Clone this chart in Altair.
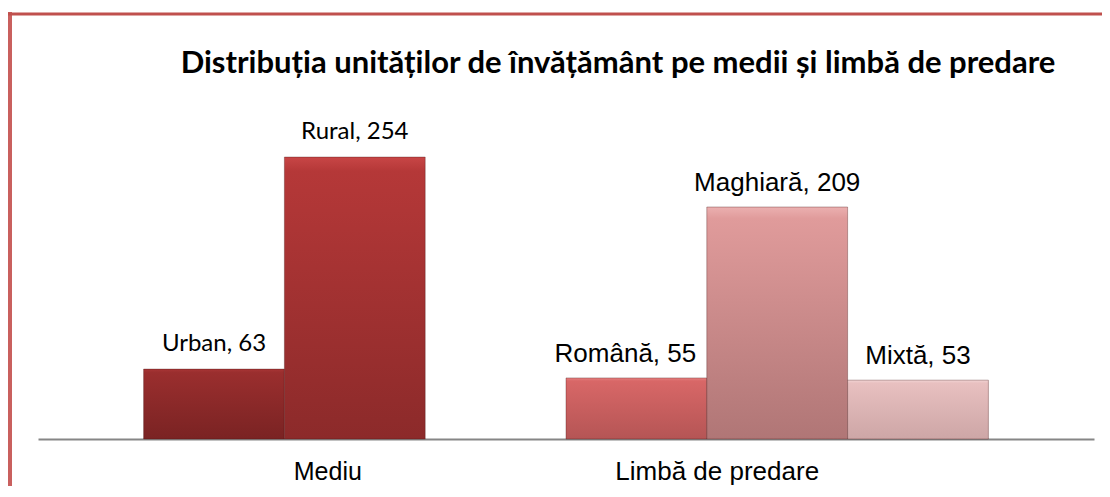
import altair as alt
import pandas as pd

# ---- data ----
categories = ["Urban", "Rural", "Română", "Maghiară", "Mixtă"]
values = [63, 254, 55, 209, 53]
groups = ["Mediu", "Mediu", "Limbă de predare", "Limbă de predare", "Limbă de predare"]
group_names = ["Mediu", "Limbă de predare"]
title_text = "Distribuția unităților de învățământ pe medii și limbă de predare"
slot_order = ["Urban", "Rural", " ", "Română", "Maghiară", "Mixtă"]

df = pd.DataFrame({"cat": categories, "val": values, "grp": groups})
df["label"] = [f"{c}, {v}" for c, v in zip(categories, values)]

W = 1056
H = 333
PAD = {"left": 30, "top": 98, "right": 8, "bottom": 47}

xs = alt.Scale(domain=slot_order, paddingInner=0, paddingOuter=0.75)
ys = alt.Scale(domain=[0, 300], nice=False, zero=True)
x_axis = alt.Axis(labels=False, ticks=False, title=None, grid=False,
                  domainColor="#868686", domainWidth=2)

grad_colors = {
    "Urban": ("#a83636", "#9a2e2e", "#7a2323"),
    "Rural": ("#c84646", "#b53838", "#8c2a2a"),
    "Română": ("#e78080", "#d86767", "#b55555"),
    "Maghiară": ("#ebb0b0", "#e09b9b", "#b07676"),
    "Mixtă": ("#f2d4d4", "#e8c0c0", "#cda6a6"),
}


def grad(c):
    top, mid, bot = c
    return {
        "gradient": "linear",
        "x1": 0, "y1": 0, "x2": 0, "y2": 1,
        "stops": [
            {"offset": 0, "color": top},
            {"offset": 0.05, "color": mid},
            {"offset": 1, "color": bot},
        ],
    }


def xenc(field):
    return alt.X(field, scale=xs, sort=slot_order, axis=x_axis)


base = alt.Chart(df)
y_enc = alt.Y("val:Q", scale=ys, axis=None)

layers = []
for c in categories:
    layers.append(
        base.transform_filter(alt.datum.cat == c)
        .mark_bar(fill=grad(grad_colors[c]), stroke="#4a1515", strokeOpacity=0.35,
                  strokeWidth=1)
        .encode(x=xenc("cat:N"), y=y_enc)
    )

lbl_mediu = (
    base.transform_filter(alt.datum.grp == group_names[0])
    .mark_text(font="Lato", fontSize=24, baseline="alphabetic", dy=-18, color="#000000")
    .encode(x=xenc("cat:N"), y=y_enc, text="label:N")
)
lbl_limba = (
    base.transform_filter((alt.datum.grp == group_names[1]) & (alt.datum.cat != "Română"))
    .mark_text(font="Liberation Sans", fontSize=26, baseline="alphabetic", dy=-16,
               color="#000000")
    .encode(x=xenc("cat:N"), y=y_enc, text="label:N")
)
lbl_romana = (
    base.transform_filter(alt.datum.cat == "Română")
    .mark_text(font="Liberation Sans", fontSize=26, baseline="alphabetic", dy=-16,
               dx=-11, color="#000000")
    .encode(x=xenc("cat:N"), y=y_enc, text="label:N")
)

one = alt.Data(values=[{}])
g_mediu = alt.Chart(one).mark_text(
    font="Liberation Sans", fontSize=25, baseline="alphabetic", dx=-27, color="#000000"
).encode(x=xenc("c:N"), y=alt.value(H + 41),
         text=alt.value(group_names[0])).transform_calculate(c="'Rural'")
g_limba = alt.Chart(one).mark_text(
    font="Liberation Sans", fontSize=26, baseline="alphabetic", dx=-60, color="#000000"
).encode(x=xenc("c:N"), y=alt.value(H + 41),
         text=alt.value(group_names[1])).transform_calculate(c="'Maghiară'")

title = alt.Chart(one).mark_text(
    font="Lato", fontSize=31, fontWeight="bold", baseline="alphabetic", align="center",
    color="#000000"
).encode(x=alt.value(580), y=alt.value(-33), text=alt.value(title_text))

border_left = alt.Chart(one).mark_rule(color="#c9605e", strokeWidth=4).encode(
    x=alt.value(-28), y=alt.value(-94), y2=alt.value(H + PAD["bottom"]))
border_top = alt.Chart(one).mark_rule(color="#c0504d", strokeWidth=3).encode(
    x=alt.value(-30), x2=alt.value(W + PAD["right"]), y=alt.value(-92))

chart = alt.layer(
    border_left, border_top, title, *layers, lbl_mediu, lbl_limba, lbl_romana,
    g_mediu, g_limba
).properties(
    width=W, height=H, padding=PAD,
    autosize=alt.AutoSizeParams(type="none"),
    background="#ffffff",
).configure_view(stroke=None)

chart.save("out.html", embed_options={"renderer": "svg", "actions": False})
